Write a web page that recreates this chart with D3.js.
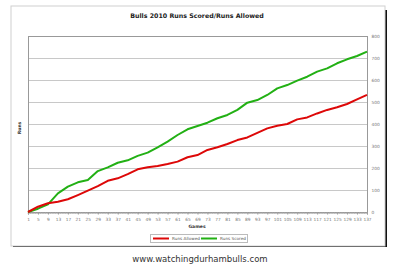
<!DOCTYPE html>
<html>
<head>
<meta charset="utf-8">
<script src="https://cdn.jsdelivr.net/npm/d3@7"></script>
<style>
  body { margin: 0; background: #fff; }
  svg text { font-family: "DejaVu Sans", Verdana, sans-serif; }
</style>
</head>
<body>
<div id="chart"></div>
<script>
// games sampled every 4 (matches the category labels)
const games = d3.range(1, 138, 4);
// cumulative runs
const runsScored = [0, 15, 35, 85, 115, 135, 145, 186, 203, 224, 235, 255, 270, 294, 320, 350,
  376, 391, 406, 426, 441, 464, 497, 509, 532, 562, 577, 597, 615, 638, 653, 676, 694, 709, 729];
const runsAllowed = [0, 24, 40, 47, 58, 77, 97, 118, 142, 153, 172, 194, 203, 209, 218, 229,
  249, 259, 282, 294, 309, 327, 339, 360, 380, 392, 400, 421, 430, 448, 464, 476, 491, 512, 532];
const yTicks = [0, 100, 200, 300, 400, 500, 600, 700, 800];
const title = "Bulls 2010 Runs Scored/Runs Allowed";

const W = 400, H = 270;
const svg = d3.select("#chart").append("svg").attr("width", W).attr("height", H);

// outer frame with shadow
svg.append("rect").attr("x", 13).attr("y", 10).attr("width", 374).attr("height", 237).attr("fill", "#111");
svg.append("rect").attr("x", 11).attr("y", 6).attr("width", 374).attr("height", 240)
  .attr("fill", "#fff").attr("stroke", "#d0d0d0").attr("stroke-width", 1);

svg.append("text").attr("x", 197).attr("y", 18).attr("text-anchor", "middle")
  .attr("font-size", 6.3).attr("font-weight", "bold").attr("fill", "#222").text(title);

const plot = { left: 28, right: 367, top: 36, bottom: 212 };

const x = d3.scaleLinear().domain([1, 137]).range([plot.left, plot.right]);
const y = d3.scaleLinear().domain([0, 800]).range([plot.bottom, plot.top]);

// gridlines
svg.append("g").selectAll("line").data(yTicks.slice(1, -1)).join("line")
  .attr("x1", plot.left).attr("x2", plot.right)
  .attr("y1", d => y(d) + 0.5).attr("y2", d => y(d) + 0.5)
  .attr("stroke", "#c8c8c8").attr("stroke-width", 1);

svg.append("rect").attr("x", plot.left + 0.5).attr("y", plot.top + 0.5)
  .attr("width", plot.right - plot.left).attr("height", plot.bottom - plot.top)
  .attr("fill", "none").attr("stroke", "#999");

// right y axis
const yAxis = svg.append("g").attr("transform", `translate(${plot.right + 0.5},0)`)
  .call(d3.axisRight(y).tickValues(yTicks).tickSize(0).tickPadding(4));
yAxis.select(".domain").remove();
yAxis.selectAll("text").attr("font-size", 4.3).attr("fill", "#777")
  .attr("font-family", "DejaVu Sans, sans-serif");

// bottom category axis
const xAxis = svg.append("g").attr("transform", `translate(0,${plot.bottom + 0.5})`)
  .call(d3.axisBottom(x).tickValues(games).tickSize(2).tickPadding(3));
xAxis.select(".domain").attr("stroke", "#999");
xAxis.selectAll(".tick line").attr("stroke", "#999");
xAxis.selectAll("text").attr("font-size", 4.3).attr("fill", "#777")
  .attr("font-family", "DejaVu Sans, sans-serif");
// minor game ticks
svg.append("g").selectAll("line").data(d3.range(1, 138)).join("line")
  .attr("x1", d => x(d)).attr("x2", d => x(d))
  .attr("y1", plot.bottom).attr("y2", plot.bottom + 2)
  .attr("stroke", "#aaa").attr("stroke-width", 0.5);

svg.append("text").attr("x", 197).attr("y", 228).attr("text-anchor", "middle")
  .attr("font-size", 4.5).attr("font-weight", "bold").attr("fill", "#333").text("Games");
svg.append("text").attr("transform", "translate(21,128) rotate(-90)").attr("text-anchor", "middle")
  .attr("font-size", 4.5).attr("font-weight", "bold").attr("fill", "#333").text("Runs");

const line = d3.line().x((d, i) => x(games[i])).y(d => y(d));

svg.append("path").datum(runsScored).attr("fill", "none").attr("stroke", "#22b014")
  .attr("stroke-width", 2).attr("stroke-linejoin", "round").attr("d", line);
svg.append("path").datum(runsAllowed).attr("fill", "none").attr("stroke", "#dd0808")
  .attr("stroke-width", 2).attr("stroke-linejoin", "round").attr("d", line);

// legend
const lg = svg.append("g").attr("transform", "translate(150,234)");
lg.append("rect").attr("x", 0.5).attr("y", 0.5).attr("width", 97).attr("height", 8)
  .attr("fill", "#fff").attr("stroke", "#bbb");
const items = [{ name: "Runs Allowed", color: "#dd0808" }, { name: "Runs Scored", color: "#22b014" }];
items.forEach((it, i) => {
  const ox = 3 + i * 48;
  lg.append("line").attr("x1", ox).attr("x2", ox + 16).attr("y1", 4.5).attr("y2", 4.5)
    .attr("stroke", it.color).attr("stroke-width", 2);
  lg.append("text").attr("x", ox + 19).attr("y", 6).attr("font-size", 4.2).attr("fill", "#555").text(it.name);
});

svg.append("text").attr("x", 200).attr("y", 262).attr("text-anchor", "middle")
  .attr("font-size", 8.5).attr("fill", "#333").text("www.watchingdurhambulls.com");
</script>
</body>
</html>
